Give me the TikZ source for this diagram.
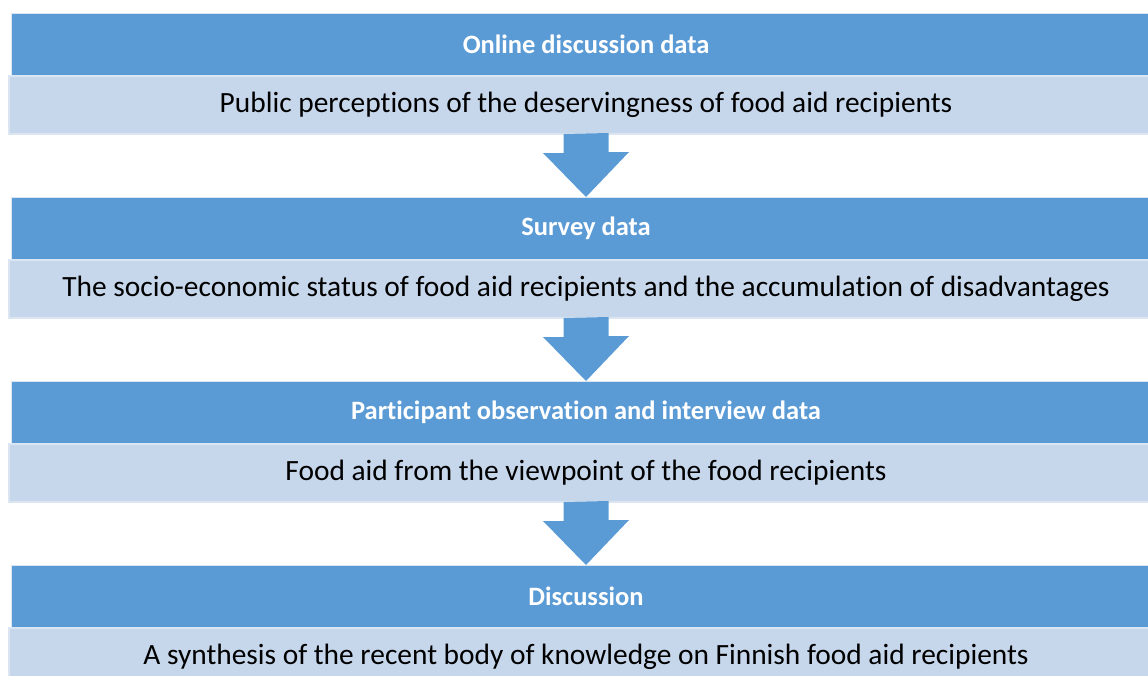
\documentclass[tikz,border=0pt]{standalone}
\usepackage{fontspec}
\setmainfont[Ligatures=NoCommon]{Carlito}
\usetikzlibrary{positioning}
\definecolor{headblue}{HTML}{5B9BD5}
\definecolor{bandblue}{HTML}{C6D7EC}
\definecolor{bandline}{HTML}{DCE6F3}

\begin{document}
\begin{tikzpicture}[x=1pt, y=1pt,
	head/.style={rectangle, fill=headblue, draw=bandline, line width=0.8pt, outer sep=0pt, minimum width=1150pt, minimum height=63pt, inner sep=0pt, text=white, font=\fontsize{26.5}{30}\selectfont\bfseries},
	band/.style={rectangle, fill=bandblue, draw=bandline, line width=1.2pt, outer sep=0pt, minimum width=1154pt, minimum height=58pt, inner sep=0pt, font=\fontsize{29.4}{34}\selectfont},
	arr/.style={fill=headblue}]
	\useasboundingbox (0,0) rectangle (1148,-675);
	\node[head, anchor=north west] (h1) at (11,-13) {Online discussion data};
	\node[band] (l1) [below=0pt of h1] {Public perceptions of the deservingness of food aid recipients};
	\node[head] (h2) [below=63pt of l1] {Survey data};
	\node[band] (l2) [below=0pt of h2] {The socio-economic status of food aid recipients and the accumulation of disadvantages};
	\node[head] (h3) [below=63pt of l2] {Participant observation and interview data};
	\node[band] (l3) [below=0pt of h3] {Food aid from the viewpoint of the food recipients};
	\node[head] (h4) [below=63pt of l3] {Discussion};
	\node[band] (l4) [below=0pt of h4] {A synthesis of the recent body of knowledge on Finnish food aid recipients};
	% block arrows between the stages
	\foreach \a/\b in {l1/h2, l2/h3, l3/h4}
		\path[arr] ([xshift=-22.5pt]\a.south) -- ++(0,-19) -- ++(-20.5,0) -- (\b.north) -- ++(43,45) -- ++(-20.5,0) -- ++(0,19) -- cycle;
\end{tikzpicture}
\end{document}
